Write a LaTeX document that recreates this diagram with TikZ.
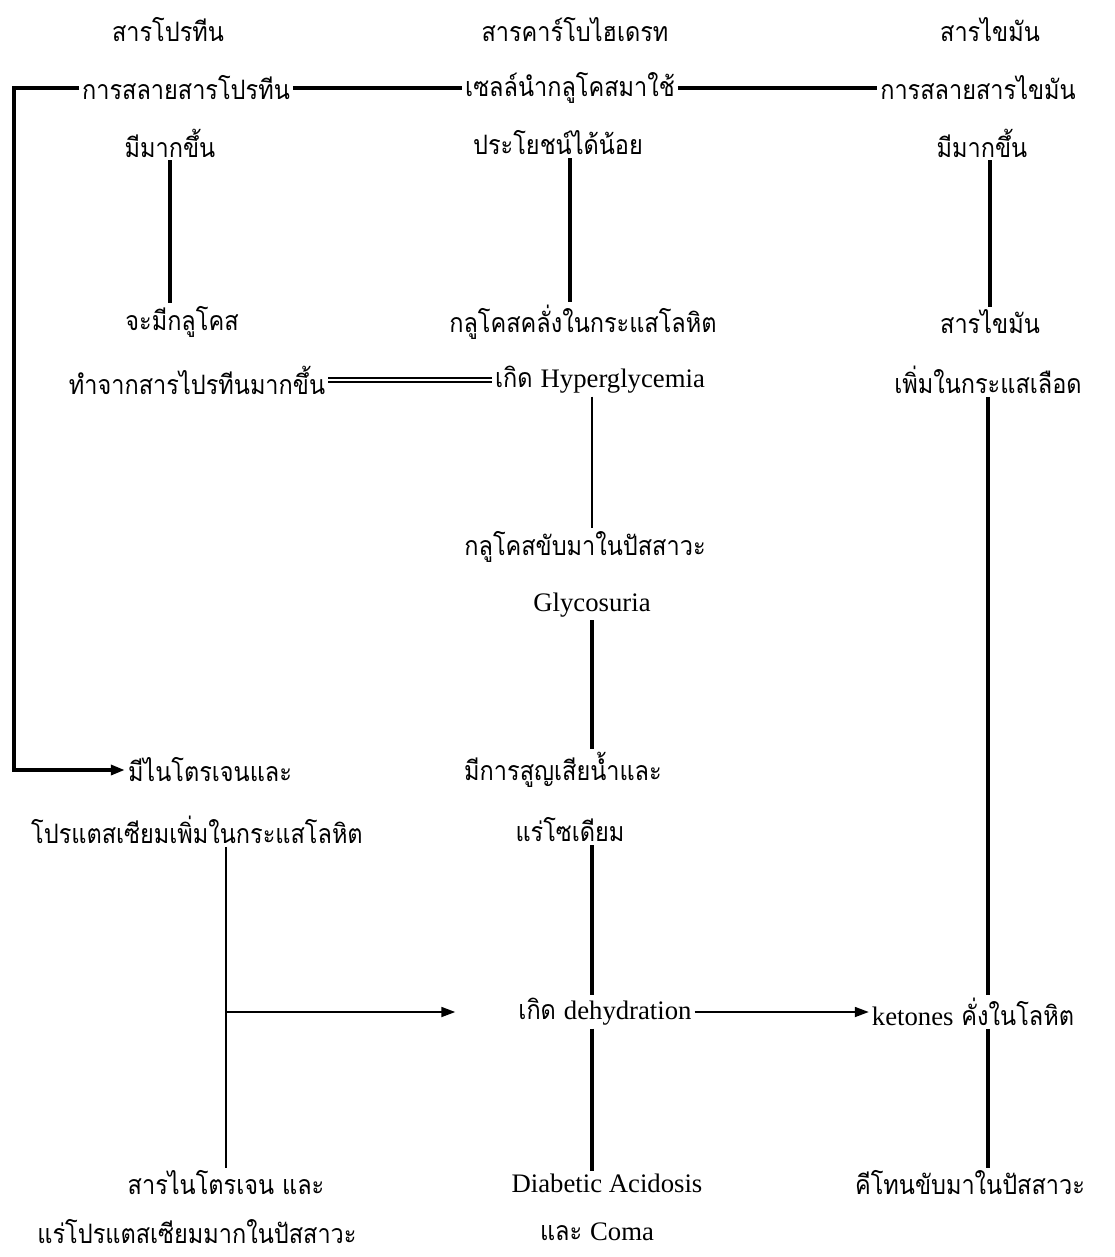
\documentclass[tikz,border=0pt]{standalone}
\usepackage{fontspec}
\setmainfont{Liberation Serif}
\newfontfamily\thai[Script=Thai,FakeStretch=0.88]{Loma}
\usetikzlibrary{arrows.meta}

\begin{document}
\begin{tikzpicture}[x=0.025cm,y=-0.025cm]
	\useasboundingbox (0,0) rectangle (1114,1257);
	\begin{scope}[every node/.style={inner sep=2pt,font=\thai\fontsize{19}{24}\selectfont}]
		% top row
		\node (pa) at (168,30) {สารโปรทีน};
		\node (ca) at (575,30) {สารคาร์โบไฮเดรท};
		\node (fa) at (990,30) {สารไขมัน};
		\node (pb) at (186,88) {การสลายสารโปรทีน};
		\node (cb) at (570,88) {เซลล์นำกลูโคสมาใช้};
		\node (fb) at (978,88) {การสลายสารไขมัน};
		\node (pc) at (170,143) {มีมากขึ้น};
		\node (cc) at (558,143) {ประโยชน์ได้น้อย};
		\node (fc) at (982,143) {มีมากขึ้น};
		% second block
		\node (pd) at (182,322) {จะมีกลูโคส};
		\node (cd) at (583,322) {กลูโคสคลั่งในกระแสโลหิต};
		\node (fd) at (990,322) {สารไขมัน};
		\node (pe) at (197,380) {ทำจากสารไปรทีนมากขึ้น};
		\node (ce) at (600,380) {เกิด \rmfamily\fontsize{19}{24}\selectfont Hyperglycemia};
		\node (fe) at (988,380) {เพิ่มในกระแสเลือด};
		\node (cf) at (585,547) {กลูโคสขับมาในปัสสาวะ};
		\node (cg) at (592,605) {\rmfamily\fontsize{19}{24}\selectfont Glycosuria};
		% lower block
		\node (ng) at (210,770) {มีไนโตรเจนและ};
		\node (ch) at (563,770) {มีการสูญเสียน้ำและ};
		\node (nh) at (197,830) {โปรแตสเซียมเพิ่มในกระแสโลหิต};
		\node (ci) at (570,830) {แร่โซเดียม};
		\node (dh) at (605,1012) {เกิด \rmfamily\fontsize{19}{24}\selectfont dehydration};
		\node (kt) at (973,1012) {{\rmfamily\fontsize{19}{24}\selectfont ketones} คั่งในโลหิต};
		\node (nj) at (226,1183) {สารไนโตรเจน และ};
		\node (da) at (607,1183) {\rmfamily\fontsize{19}{24}\selectfont Diabetic Acidosis};
		\node (kj) at (970,1183) {คีโทนขับมาในปัสสาวะ};
		\node (nk) at (197,1232) {แร่โปรแตสเซียมมากในปัสสาวะ};
		\node (db) at (597,1232) {และ \rmfamily\fontsize{19}{24}\selectfont Coma};
	\end{scope}
	\coordinate (lft) at (14,0);
	\coordinate (dhin) at ([xshift=-1.5cm]dh.west);
	\begin{scope}[>={Triangle[length=10pt,width=7pt]},line width=2.5pt]
		\draw (pb.east) -- (cb.west);
		\draw (cb.east) -- (fb.west);
		\draw[->] (pb.west) -- (pb.west -| lft) |- (ng.west);
		\draw (pc.south) -- (pc.south |- pd.north);
		\draw (cc.south -| cb) -- (cd.north -| cb);
		\draw (fc.south -| fd) -- (fd.north);
		\draw[double,line width=1.2pt,double distance=1.2pt] (pe.east) -- (ce.west);
		\draw[line width=1.2pt] (ce.south -| cg) -- (cf.north -| cg);
		\draw (cg.south) -- (cg |- ch.north);
		\draw (fe.south) -- (fe.south |- kt.north);
		\draw (ci.south -| cg) -- (cg |- dh.north);
		\draw (cg |- dh.south) -- (cg |- da.north);
		\draw (kt.south -| fe) -- (fe |- kj.north);
		\draw[line width=1.6pt] (nh.south -| nj) -- (nj.north);
		\draw[->,line width=1.6pt] (nj |- dh) -- (dhin);
		\draw[->,line width=1.6pt] (dh.east) -- (kt.west);
	\end{scope}
\end{tikzpicture}
\end{document}
